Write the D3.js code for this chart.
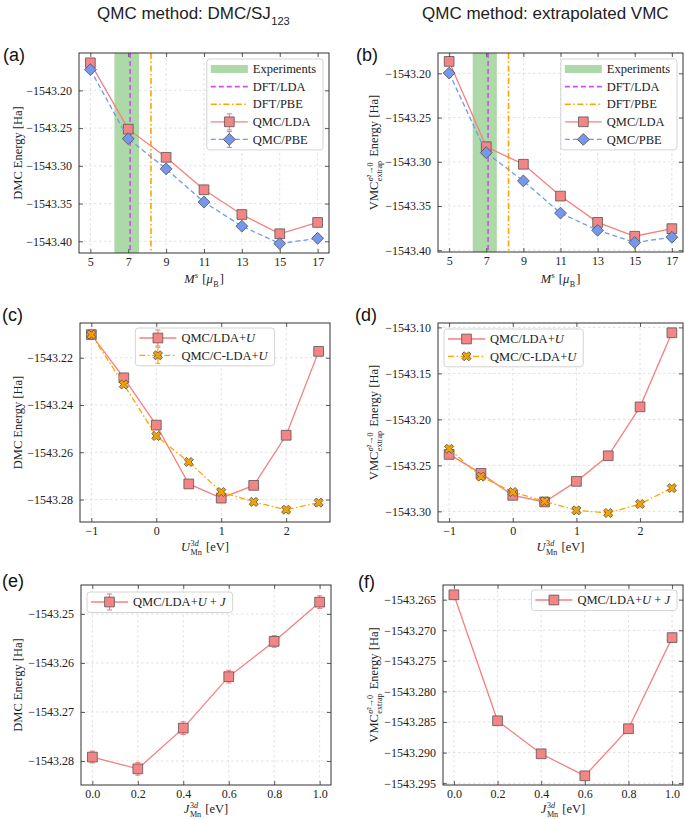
<!DOCTYPE html>
<html><head><meta charset="utf-8">
<script src="https://cdn.jsdelivr.net/npm/d3@7/dist/d3.min.js"></script>
<style>body{margin:0;background:#fff} svg{display:block} text{white-space:pre}</style>
</head><body>
<svg id="fig" width="685" height="819"></svg>
<script>
// ---------------- data ----------------
const msValues = [5, 7, 9, 11, 13, 15, 17];
const dmcLDA = [-1543.1635, -1543.2514, -1543.2887, -1543.3317, -1543.3645, -1543.3900, -1543.3750];
const dmcPBE = [-1543.1725, -1543.2640, -1543.3040, -1543.3480, -1543.3800, -1543.4030, -1543.3960];
const vmcLDA = [-1543.1865, -1543.2830, -1543.3028, -1543.3388, -1543.3685, -1543.3842, -1543.3756];
const vmcPBE = [-1543.1997, -1543.2897, -1543.3216, -1543.3580, -1543.3775, -1543.3913, -1543.3853];
const expMsRange = [6.27, 7.57];
const dftLdaMs = 7.1;
const dftPbeMs = 8.2;

const uValues = [-1, -0.5, 0, 0.5, 1, 1.5, 2, 2.5];
const dmcLdaU  = [-1543.2102, -1543.2285, -1543.2485, -1543.2734, -1543.2794, -1543.2740, -1543.2528, -1543.2173];
const dmcCLdaU = [-1543.2102, -1543.2313, -1543.2531, -1543.2641, -1543.2768, -1543.2810, -1543.2843, -1543.2813];
const vmcLdaU  = [-1543.2381, -1543.2587, -1543.2826, -1543.2898, -1543.2674, -1543.2396, -1543.1864, -1543.1058];
const vmcCLdaU = [-1543.2320, -1543.2623, -1543.2790, -1543.2891, -1543.2989, -1543.3018, -1543.2920, -1543.2747];

const jValues = [0, 0.2, 0.4, 0.6, 0.8, 1.0];
const dmcLdaUJ = [-1543.2792, -1543.2816, -1543.2733, -1543.2628, -1543.2556, -1543.2476];
const dmcLdaUJErr = [0.0012, 0.0013, 0.0013, 0.0013, 0.0012, 0.0013];
const vmcLdaUJ = [-1543.2642, -1543.2848, -1543.2902, -1543.2938, -1543.2861, -1543.2712];

const msTicks = [5, 7, 9, 11, 13, 15, 17];
const uTicks = [-1, 0, 1, 2];
const jTicks = [0, 0.2, 0.4, 0.6, 0.8, 1.0];
const yTicksA = [-1543.20, -1543.25, -1543.30, -1543.35, -1543.40];
const yTicksC = [-1543.22, -1543.24, -1543.26, -1543.28];
const yTicksD = [-1543.10, -1543.15, -1543.20, -1543.25, -1543.30];
const yTicksE = [-1543.25, -1543.26, -1543.27, -1543.28];
const yTicksF = [-1543.265, -1543.270, -1543.275, -1543.280, -1543.285, -1543.290, -1543.295];

const titles = ["QMC method: DMC/SJ", "QMC method: extrapolated VMC"];

// ---------------- style ----------------
const SERIF = "'Liberation Serif','Times New Roman',serif";
const SANS = "'Liberation Sans',Arial,sans-serif";
const C_LDA = "#f77f7f", C_LDA_FILL = "#f58585";
const C_PBE = "#6d9cf2", C_PBE_FILL = "#7597ee";
const C_ORANGE = "#ffa500", C_ORANGE_FILL = "#f5a200";
const C_MAG = "#cf4ff0";
const EDGE = "#555";
const TICK_FS = 12, LABEL_FS = 12.5;

const svg = d3.select("#fig");

function rich(parent, segs, size, family) {
  const g = parent.append("g").attr("font-family", family).attr("fill", "#222");
  let cx = 0;
  const put = (s, x, y, fs) => {
    const el = g.append("text").attr("x", x).attr("y", y).attr("font-size", fs)
      .attr("xml:space", "preserve")
      .attr("font-style", s.it ? "italic" : "normal").text(s.t);
    return el.node().getComputedTextLength();
  };
  segs.forEach(s => {
    if (s.t !== undefined) { cx += put(s, cx, 0, size); }
    else {
      const fs = size * 0.65;
      let w1 = 0, w2 = 0;
      if (s.sup) { let sx = cx + 0.5; s.sup.forEach(p => { sx += put(p, sx, -size * 0.40, fs); }); w1 = sx - cx; }
      if (s.sub) { let sx = cx + 0.5; s.sub.forEach(p => { sx += put(p, sx, size * 0.34, fs); }); w2 = sx - cx; }
      cx += Math.max(w1, w2) + 1;
    }
  });
  return { g, width: cx };
}

const msLabel = [{t: "M", it: 1}, {sup: [{t: "s"}]}, {t: " ["}, {t: "μ", it: 1}, {sub: [{t: "B"}]}, {t: "]"}];
const uLabel = [{t: "U", it: 1}, {sup: [{t: "3"}, {t: "d", it: 1}], sub: [{t: "Mn"}]}, {t: " [eV]"}];
const jLabel = [{t: "J", it: 1}, {sup: [{t: "3"}, {t: "d", it: 1}], sub: [{t: "Mn"}]}, {t: " [eV]"}];
const dmcLabel = [{t: "DMC Energy [Ha]"}];
const vmcLabel = [{t: "VMC"}, {sup: [{t: "σ", it: 1}, {t: "²→0"}], sub: [{t: "extrap"}]}, {t: " Energy [Ha]"}];

function markerPath(kind) {
  if (kind === "square") return d3.symbol(d3.symbolSquare, 95)();
  if (kind === "diamond") return d3.symbol(d3.symbolSquare, 70)();
  return d3.symbol(d3.symbolCross, 52)();
}
function markerRot(kind) { return kind === "square" ? 0 : 45; }

function drawPanel(p) {
  const g = svg.append("g");
  const x = d3.scaleLinear().domain(p.xDomain).range([p.left, p.right]);
  const y = d3.scaleLinear().domain(p.yDomain).range([p.bottom, p.top]);

  const grid = g.append("g").attr("stroke", "#d6d6d6").attr("stroke-width", 0.7).attr("stroke-dasharray", "2.5,2.5");
  p.xTicks.forEach(t => grid.append("line").attr("x1", x(t)).attr("x2", x(t)).attr("y1", p.top).attr("y2", p.bottom));
  p.yTicks.forEach(t => grid.append("line").attr("y1", y(t)).attr("y2", y(t)).attr("x1", p.left).attr("x2", p.right));

  if (p.band) g.append("rect").attr("x", x(p.band[0])).attr("width", x(p.band[1]) - x(p.band[0]))
    .attr("y", p.top).attr("height", p.bottom - p.top).attr("fill", "#acd9a7");
  (p.vlines || []).forEach(v => g.append("line").attr("x1", x(v.x)).attr("x2", x(v.x))
    .attr("y1", p.top).attr("y2", p.bottom).attr("stroke", v.color).attr("stroke-width", 1.6)
    .attr("stroke-dasharray", v.dash));

  p.series.forEach(s => {
    const pts = p.xs.map((xv, i) => [xv, s.values[i]]);
    g.append("path").attr("d", d3.line().x(d => x(d[0])).y(d => y(d[1]))(pts))
      .attr("fill", "none").attr("stroke", s.color).attr("stroke-width", 1.3)
      .attr("stroke-dasharray", s.dash || null);
    if (s.err) {
      pts.forEach((d, i) => {
        const e = s.err[i], cxp = x(d[0]);
        const eg = g.append("g").attr("stroke", s.color).attr("stroke-width", 1.1);
        eg.append("line").attr("x1", cxp).attr("x2", cxp).attr("y1", y(d[1] - e)).attr("y2", y(d[1] + e));
        eg.append("line").attr("x1", cxp - 2.5).attr("x2", cxp + 2.5).attr("y1", y(d[1] - e)).attr("y2", y(d[1] - e));
        eg.append("line").attr("x1", cxp - 2.5).attr("x2", cxp + 2.5).attr("y1", y(d[1] + e)).attr("y2", y(d[1] + e));
      });
    }
    g.append("g").selectAll("path").data(pts).join("path")
      .attr("d", markerPath(s.marker))
      .attr("transform", d => `translate(${x(d[0])},${y(d[1])}) rotate(${markerRot(s.marker)})`)
      .attr("fill", s.fill).attr("stroke", EDGE).attr("stroke-width", 0.8);
  });

  // frame
  g.append("rect").attr("x", p.left).attr("y", p.top).attr("width", p.right - p.left).attr("height", p.bottom - p.top)
    .attr("fill", "none").attr("stroke", "#333").attr("stroke-width", 1);

  const styleAxis = sel => {
    sel.select(".domain").remove();
    sel.attr("font-family", SERIF).attr("font-size", TICK_FS);
    sel.selectAll(".tick line").attr("stroke", "#333").attr("stroke-width", 0.8);
    sel.selectAll(".tick text").attr("fill", "#222");
  };
  g.append("g").attr("transform", `translate(0,${p.bottom})`)
    .call(d3.axisBottom(x).tickValues(p.xTicks).tickFormat(p.xFmt).tickSizeInner(-4).tickSizeOuter(0).tickPadding(4)).call(styleAxis);
  g.append("g").attr("transform", `translate(0,${p.top})`)
    .call(d3.axisTop(x).tickValues(p.xTicks).tickFormat(() => "").tickSizeInner(-4).tickSizeOuter(0)).call(styleAxis);
  g.append("g").attr("transform", `translate(${p.left},0)`)
    .call(d3.axisLeft(y).tickValues(p.yTicks).tickFormat(p.yFmt).tickSizeInner(-4).tickSizeOuter(0).tickPadding(7)).call(styleAxis);
  g.append("g").attr("transform", `translate(${p.right},0)`)
    .call(d3.axisRight(y).tickValues(p.yTicks).tickFormat(() => "").tickSizeInner(-4).tickSizeOuter(0)).call(styleAxis);

  // axis labels
  const xl = g.append("g").attr("transform", `translate(${(p.left + p.right) / 2},${p.xLabelY})`);
  const xr = rich(xl, p.xLabel, LABEL_FS, SERIF);
  xr.g.attr("transform", `translate(${-xr.width / 2},0)`);
  const yl = g.append("g").attr("transform", `translate(${p.yLabelX},${(p.top + p.bottom) / 2}) rotate(-90)`);
  const yr = rich(yl, p.yLabel, LABEL_FS, SERIF);
  yr.g.attr("transform", `translate(${-yr.width / 2},0)`);

  // legend
  const L = p.legend;
  const rowH = L.rowH;
  const lg = g.append("g");
  const box = lg.append("rect").attr("rx", 3).attr("fill", "#fff").attr("fill-opacity", 0.85)
    .attr("stroke", "#cfcfcf").attr("stroke-width", 0.9);
  let maxW = 0;
  L.entries.forEach((e, i) => {
    const rg = lg.append("g");
    const cy = 10 + rowH * i;
    const hx0 = 4, hx1 = 41, hc = 22.5;
    if (e.kind === "patch") {
      rg.append("rect").attr("x", hx0).attr("y", cy - 4).attr("width", hx1 - hx0).attr("height", 8).attr("fill", e.fill);
    } else {
      rg.append("line").attr("x1", hx0).attr("x2", hx1).attr("y1", cy).attr("y2", cy)
        .attr("stroke", e.color).attr("stroke-width", e.lw || 1.3).attr("stroke-dasharray", e.dash || null);
      if (e.err) {
        const eg = rg.append("g").attr("stroke", e.color).attr("stroke-width", 1.1);
        eg.append("line").attr("x1", hc).attr("x2", hc).attr("y1", cy - 8).attr("y2", cy + 8);
        eg.append("line").attr("x1", hc - 2.5).attr("x2", hc + 2.5).attr("y1", cy - 8).attr("y2", cy - 8);
        eg.append("line").attr("x1", hc - 2.5).attr("x2", hc + 2.5).attr("y1", cy + 8).attr("y2", cy + 8);
      }
      if (e.marker) rg.append("path").attr("d", markerPath(e.marker))
        .attr("transform", `translate(${hc},${cy}) rotate(${markerRot(e.marker)})`)
        .attr("fill", e.fill).attr("stroke", EDGE).attr("stroke-width", 0.8);
    }
    const tg = rg.append("g").attr("transform", `translate(46,${cy + 4.2})`);
    const r = rich(tg, e.label, LABEL_FS, SERIF);
    maxW = Math.max(maxW, r.width);
  });
  const bw = 46 + maxW + 7, bh = 10 + rowH * (L.entries.length - 1) + 10.5;
  box.attr("width", bw).attr("height", bh);
  let bx;
  if (L.pos === "right") bx = p.right - 6 - bw;
  else if (L.pos === "left") bx = p.left + 6;
  else bx = (p.left + p.right) / 2 - bw / 2;
  lg.attr("transform", `translate(${bx},${p.top + L.dy})`);

  // panel letter
  svg.append("text").attr("x", p.letterX).attr("y", p.letterY).attr("font-family", SANS)
    .attr("font-size", 18).attr("fill", "#111").text(p.letter);
}

const fmtInt = d3.format("d"), fmt1 = d3.format(".1f"), fmt2 = d3.format(".2f"), fmt3 = d3.format(".3f");

const legMs = (err) => [
  {kind: "patch", fill: "#acd9a7", label: [{t: "Experiments"}]},
  {kind: "line", color: C_MAG, dash: "5,3", lw: 1.6, label: [{t: "DFT/LDA"}]},
  {kind: "line", color: C_ORANGE, dash: "6,2.5,1.5,2.5", lw: 1.6, label: [{t: "DFT/PBE"}]},
  {kind: "series", color: C_LDA, fill: C_LDA_FILL, marker: "square", err, label: [{t: "QMC/LDA"}]},
  {kind: "series", color: C_PBE, fill: C_PBE_FILL, marker: "diamond", dash: "5,3", err, label: [{t: "QMC/PBE"}]}
];
const legU = (err) => [
  {kind: "series", color: C_LDA, fill: C_LDA_FILL, marker: "square", err, label: [{t: "QMC/LDA+"}, {t: "U", it: 1}]},
  {kind: "series", color: C_ORANGE, fill: C_ORANGE_FILL, marker: "x", dash: "6,2.5,1.5,2.5", err, label: [{t: "QMC/C-LDA+"}, {t: "U", it: 1}]}
];
const legJ = (err) => [
  {kind: "series", color: C_LDA, fill: C_LDA_FILL, marker: "square", err, label: [{t: "QMC/LDA+"}, {t: "U", it: 1}, {t: " + "}, {t: "J", it: 1}]}
];

const msVlines = [{x: dftLdaMs, color: C_MAG, dash: "5,3"}, {x: dftPbeMs, color: C_ORANGE, dash: "6,2.5,1.5,2.5"}];

const panels = [
  {letter: "(a)", letterX: 3, letterY: 61, left: 79, right: 329, top: 53, bottom: 253,
   xDomain: [4.4, 17.6], yDomain: [-1543.4155, -1543.1505], xs: msValues, xTicks: msTicks, yTicks: yTicksA,
   xFmt: fmtInt, yFmt: fmt2, band: expMsRange, vlines: msVlines,
   series: [{values: dmcLDA, color: C_LDA, fill: C_LDA_FILL, marker: "square"},
            {values: dmcPBE, color: C_PBE, fill: C_PBE_FILL, marker: "diamond", dash: "5,3"}],
   xLabel: msLabel, yLabel: dmcLabel, xLabelY: 283, yLabelX: 22,
   legend: {pos: "right", dy: 6, rowH: 17.6, entries: legMs(true)}},
  {letter: "(b)", letterX: 356, letterY: 61, left: 438, right: 683, top: 53, bottom: 252,
   xDomain: [4.4, 17.6], yDomain: [-1543.402, -1543.177], xs: msValues, xTicks: msTicks, yTicks: yTicksA,
   xFmt: fmtInt, yFmt: fmt2, band: expMsRange, vlines: msVlines,
   series: [{values: vmcLDA, color: C_LDA, fill: C_LDA_FILL, marker: "square"},
            {values: vmcPBE, color: C_PBE, fill: C_PBE_FILL, marker: "diamond", dash: "5,3"}],
   xLabel: msLabel, yLabel: vmcLabel, xLabelY: 283, yLabelX: 378,
   legend: {pos: "right", dy: 6, rowH: 17.6, entries: legMs(false)}},
  {letter: "(c)", letterX: 2, letterY: 321, left: 80, right: 330, top: 323, bottom: 522,
   xDomain: [-1.175, 2.675], yDomain: [-1543.2895, -1543.2053], xs: uValues, xTicks: uTicks, yTicks: yTicksC,
   xFmt: fmtInt, yFmt: fmt2,
   series: [{values: dmcLdaU, color: C_LDA, fill: C_LDA_FILL, marker: "square"},
            {values: dmcCLdaU, color: C_ORANGE, fill: C_ORANGE_FILL, marker: "x", dash: "6,2.5,1.5,2.5"}],
   xLabel: uLabel, yLabel: dmcLabel, xLabelY: 550.5, yLabelX: 22,
   legend: {pos: "center", dy: 5, rowH: 17.3, entries: legU(true)}},
  {letter: "(d)", letterX: 355, letterY: 321, left: 438, right: 683, top: 323, bottom: 522,
   xDomain: [-1.175, 2.675], yDomain: [-1543.3116, -1543.0952], xs: uValues, xTicks: uTicks, yTicks: yTicksD,
   xFmt: fmtInt, yFmt: fmt2,
   series: [{values: vmcLdaU, color: C_LDA, fill: C_LDA_FILL, marker: "square"},
            {values: vmcCLdaU, color: C_ORANGE, fill: C_ORANGE_FILL, marker: "x", dash: "6,2.5,1.5,2.5"}],
   xLabel: uLabel, yLabel: vmcLabel, xLabelY: 550.5, yLabelX: 378,
   legend: {pos: "left", dy: 6, rowH: 17.3, entries: legU(false)}},
  {letter: "(e)", letterX: 2, letterY: 587, left: 81, right: 331, top: 585, bottom: 785,
   xDomain: [-0.05, 1.05], yDomain: [-1543.2849, -1543.2441], xs: jValues, xTicks: jTicks, yTicks: yTicksE,
   xFmt: fmt1, yFmt: fmt2,
   series: [{values: dmcLdaUJ, err: dmcLdaUJErr, color: C_LDA, fill: C_LDA_FILL, marker: "square"}],
   xLabel: jLabel, yLabel: dmcLabel, xLabelY: 812.5, yLabelX: 22,
   legend: {pos: "left", dy: 7, rowH: 17.3, entries: legJ(true)}},
  {letter: "(f)", letterX: 358, letterY: 588, left: 443, right: 683, top: 585, bottom: 785,
   xDomain: [-0.05, 1.05], yDomain: [-1543.2953, -1543.2626], xs: jValues, xTicks: jTicks, yTicks: yTicksF,
   xFmt: fmt1, yFmt: fmt3,
   series: [{values: vmcLdaUJ, color: C_LDA, fill: C_LDA_FILL, marker: "square"}],
   xLabel: jLabel, yLabel: vmcLabel, xLabelY: 812.5, yLabelX: 378,
   legend: {pos: "right", dy: 5, rowH: 17.3, entries: legJ(false)}}
];

panels.forEach(drawPanel);

// column titles
const t1 = svg.append("g").attr("transform", "translate(97,19)");
rich(t1, [{t: titles[0]}, {sub: [{t: "123"}]}], 17, SANS);
const t2 = svg.append("g").attr("transform", "translate(422,19)");
rich(t2, [{t: titles[1]}], 17, SANS);
</script>
</body></html>
